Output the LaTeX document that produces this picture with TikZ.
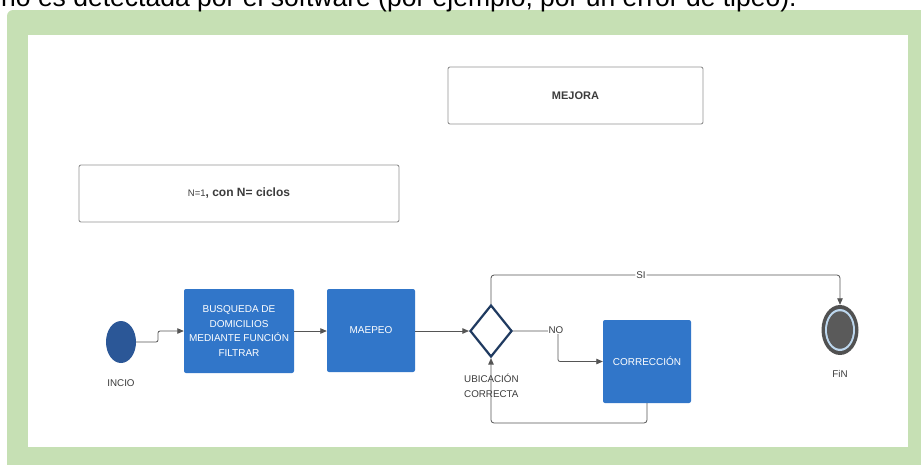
\documentclass[tikz,border=0pt]{standalone}
\usepackage{fontspec}
\setmainfont{Liberation Sans}
\usetikzlibrary{shapes.geometric,arrows.meta}
\definecolor{framegreen}{HTML}{C6E0B4}
\definecolor{boxblue}{HTML}{3176C9}
\definecolor{startblue}{HTML}{2B5797}
\definecolor{navy}{HTML}{1F3A60}
\definecolor{linegray}{HTML}{555555}
\definecolor{txtgray}{HTML}{3C3C3C}
\definecolor{ringblue}{HTML}{BDD7EE}
\definecolor{findark}{HTML}{5A5A5A}
\begin{document}
\begin{tikzpicture}[x=1pt,y=-1pt,
  whitebox/.style={draw=gray!85, line width=0.9pt, rounded corners=2pt, fill=white, text=txtgray},
  bluebox/.style={fill=boxblue, rounded corners=2pt, text=white, align=center,
    font=\fontsize{10}{14.5}\selectfont, inner sep=2pt},
  lbl/.style={text=txtgray, font=\fontsize{9.8}{15}\selectfont, inner sep=1pt},
  flow/.style={draw=linegray, line width=0.8pt, -{Triangle[length=6.5pt,width=5.5pt]}},
  plain/.style={draw=linegray, line width=0.8pt}]
\useasboundingbox (0,0) rectangle (921,464);
\clip (0,0) rectangle (921,464);
% frame
\fill[framegreen, rounded corners=6pt] (7,10) rectangle (940,480);
\fill[white] (28,35) rectangle (908,447);
% top text (cut off at the top edge, as in the reference)
\node[anchor=base west, inner sep=0, font=\fontsize{26.5}{26.5}\selectfont] (toptext) at (1,6)
  {no es detectada por el software (por ejemplo, por un error de tipeo).};
% upper boxes
\node[whitebox, minimum width=255, minimum height=57, font=\fontsize{11}{12}\selectfont\bfseries] (mejora) at (575.5,95.5) {MEJORA};
\node[whitebox, minimum width=320, minimum height=57] (ciclos) at (239,193.5)
  {{\fontsize{9.5}{11}\selectfont N=1}{\fontsize{12}{14}\selectfont\bfseries, con N= ciclos}};
% start
\node[ellipse, fill=startblue, minimum width=30, minimum height=42, inner sep=0] (incio) at (121,342) {};
\node[lbl] (incio-l) at (121,383) {INCIO};
% process boxes
\node[bluebox, minimum width=110, minimum height=84] (busq) at (239,331)
  {BUSQUEDA DE\\DOMICILIOS\\MEDIANTE FUNCIÓN\\FILTRAR};
\node[bluebox, minimum width=88, minimum height=83] (maepeo) at (371,330.5) {MAEPEO};
\node[bluebox, minimum width=88, minimum height=83] (correc) at (647,361.5) {CORRECCIÓN};
% decision
\node[diamond, draw=navy, line width=2.2pt, fill=white, minimum width=42, minimum height=52, inner sep=0] (dia) at (491,331) {};
\node[lbl, anchor=north west, align=left] (dia-l) at (463,372.5) {UBICACIÓN\\CORRECTA};
% end
\node[ellipse, fill=findark!90!black, minimum width=37, minimum height=50, inner sep=0] (fin) at (840,330) {};
\node[ellipse, fill=ringblue, minimum width=30, minimum height=42, inner sep=0] (fin-ring) at (fin) {};
\node[ellipse, fill=findark, minimum width=26, minimum height=37.5, inner sep=0] (fin-core) at (fin) {};
\node[lbl] (fin-l) at (840,374) {FiN};
% connectors
\coordinate (stepA) at (158,342);
\coordinate (stepB) at (158,331);
\draw[flow, rounded corners=2pt] (incio.east) -- (stepA) -- (stepB) -- (busq.west);
\draw[flow] (busq.east) -- (maepeo.west |- busq.east);
\draw[flow] (maepeo.east |- dia.west) -- (dia.west);
\coordinate (siA) at (491,275);
\draw[flow, rounded corners=3pt] (dia.north) -- (siA) -| node[pos=0.215, fill=white, lbl] {SI} (fin.north);
\coordinate (noA) at (558,331);
\draw[flow, rounded corners=2pt] (dia.east) -- (noA) |- (correc.west);
\node[lbl, fill=white] (no-l) at (556,330) {NO};
\coordinate (loopA) at (647,423);
\draw[flow, rounded corners=3pt] (correc.south) -- (loopA) -| (dia.south);
\end{tikzpicture}
\end{document}
